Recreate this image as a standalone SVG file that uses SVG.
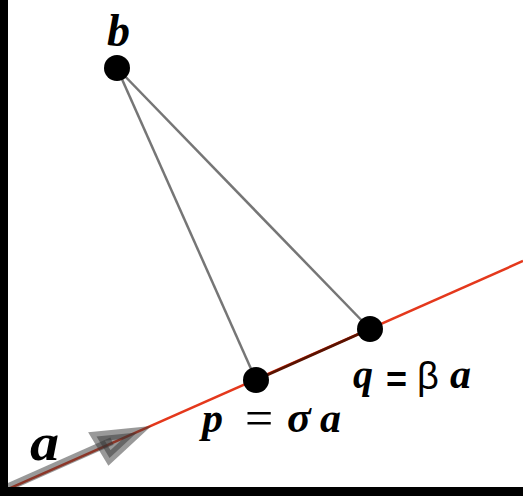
<svg xmlns="http://www.w3.org/2000/svg" width="523" height="496" viewBox="0 0 523 496">
<style>
.lbl{font-family:"Liberation Serif","Times New Roman",serif;font-weight:bold;font-style:italic;fill:#000}
.eq{font-family:"Liberation Serif","Times New Roman",serif;fill:#000}
.sans{font-family:"Liberation Sans",Arial,sans-serif;fill:#000}
.dot{fill:#000}
.tie{stroke:#767676;stroke-width:2.5;fill:none}
.ghost{fill:#333;fill-opacity:0.5;stroke:#333;stroke-opacity:0.5}
</style>
<rect x="0" y="0" width="523" height="496" fill="#fff"/>
<g id="connectors">
  <line x1="0" y1="492.7" x2="523" y2="261" stroke="#e4381c" stroke-width="2.5"/>
  <line x1="256" y1="380" x2="370" y2="329" stroke="#5a1200" stroke-width="3"/>
  <line class="tie" x1="117" y1="68" x2="256" y2="380"/>
  <line class="tie" x1="117" y1="68" x2="370" y2="329"/>
</g>
<g id="vector-a">
  <line x1="0" y1="490.8" x2="112" y2="441.2" stroke="#333" stroke-opacity="0.5" stroke-width="8"/>
  <polygon class="ghost" points="96.5,436.5 137,432.5 109.5,458" stroke-width="10" stroke-linejoin="miter" stroke-miterlimit="10"/>
  <text class="lbl" x="30" y="460" font-size="52" transform="translate(30 460) scale(1.12 1) translate(-30 -460)">a</text>
</g>
<g id="node-b">
  <circle class="dot" cx="117" cy="68" r="13"/>
  <text class="lbl" x="107" y="46" font-size="46">b</text>
</g>
<g id="node-p">
  <circle class="dot" cx="256" cy="380" r="13"/>
  <text class="lbl" x="202" y="432" font-size="42">p</text>
  <text class="eq" x="245" y="435" font-size="50">=</text>
  <text class="lbl" x="287" y="432" font-size="44">σ</text>
  <text class="lbl" x="320" y="432" font-size="42">a</text>
</g>
<g id="node-q">
  <circle class="dot" cx="370" cy="329" r="13"/>
  <text class="lbl" x="353" y="388" font-size="40">q</text>
  <text class="sans" x="386" y="392" font-size="36" font-weight="bold">=</text>
  <text class="sans" x="417" y="389" font-size="38">β</text>
  <text class="lbl" x="450" y="388" font-size="42">a</text>
</g>
<g id="frame">
  <rect x="0" y="0" width="8" height="496" fill="#000"/>
  <rect x="0" y="487" width="523" height="9" fill="#000"/>
</g>
</svg>
